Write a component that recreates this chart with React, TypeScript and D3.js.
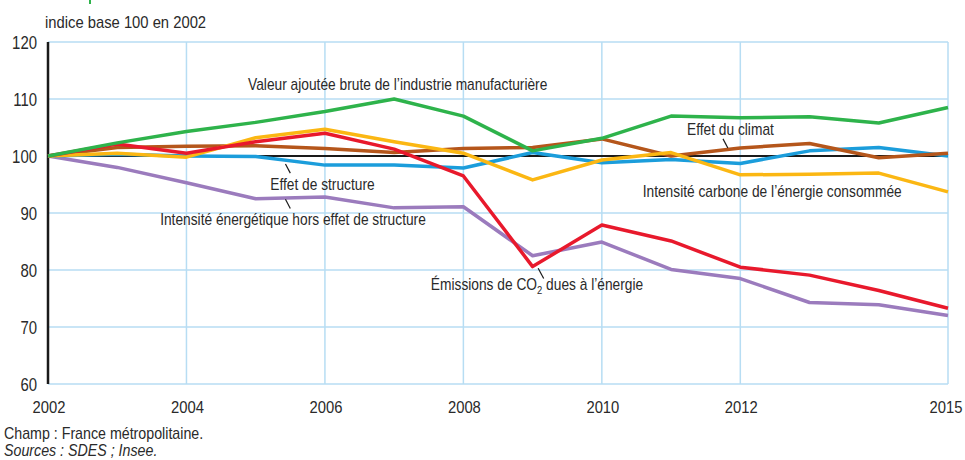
import React from "react";
import * as d3 from "d3";

const years = [2002, 2003, 2004, 2005, 2006, 2007, 2008, 2009, 2010, 2011, 2012, 2013, 2014, 2015];
const valeurAjoutee = [100, 102.3, 104.3, 105.9, 107.8, 110.0, 107.0, 100.9, 103.1, 107.0, 106.7, 106.9, 105.8, 108.5];
const emissionsCO2 = [100, 102.1, 100.5, 102.5, 104.0, 101.2, 96.5, 80.6, 87.9, 85.1, 80.5, 79.1, 76.4, 73.3];
const intensiteEnergetique = [100, 98.0, 95.3, 92.5, 92.8, 90.9, 91.1, 82.5, 84.9, 80.1, 78.5, 74.3, 73.9, 72.0];
const intensiteCarbone = [100, 100.5, 99.8, 103.2, 104.7, 102.5, 100.5, 95.8, 99.3, 100.6, 96.7, 96.8, 97.0, 93.7];
const effetClimat = [100, 101.5, 101.7, 101.8, 101.3, 100.6, 101.3, 101.5, 103.0, 100.0, 101.4, 102.2, 99.7, 100.5];
const effetStructure = [100, 100.3, 100.0, 99.9, 98.4, 98.4, 97.9, 100.6, 98.8, 99.4, 98.7, 100.9, 101.5, 100.0];
const yTicks = [60, 70, 80, 90, 100, 110, 120];
const xTicks = [2002, 2004, 2006, 2008, 2010, 2012, 2015];

const series = [
  { name: "Intensité énergétique hors effet de structure", values: intensiteEnergetique, color: "#9b7bbd" },
  { name: "Effet de structure", values: effetStructure, color: "#1b9ddb" },
  { name: "Effet du climat", values: effetClimat, color: "#b5561b" },
  { name: "Intensité carbone", values: intensiteCarbone, color: "#fbb713" },
  { name: "Émissions", values: emissionsCO2, color: "#e8192c" },
  { name: "Valeur ajoutée", values: valeurAjoutee, color: "#2eb34b" },
];

const FONT = "'Liberation Sans', Arial, sans-serif";
const TXT = "#2a2a2a";

function Txt(props: {
  x: number;
  y: number;
  size: number;
  k: number;
  anchor?: string;
  italic?: boolean;
  children: React.ReactNode;
}) {
  return (
    <text
      transform={`translate(${props.x},${props.y}) scale(${props.k},1)`}
      fontFamily={FONT}
      fontSize={props.size}
      fill={TXT}
      textAnchor={props.anchor || "start"}
      fontStyle={props.italic ? "italic" : "normal"}
    >
      {props.children}
    </text>
  );
}

export default function App() {
  const x = d3.scaleLinear().domain([2002, 2015]).range([48, 948]);
  const y = d3.scaleLinear().domain([60, 120]).range([384, 42]);
  const line = d3.line<number>().x((_, i) => x(years[i])).y((d) => y(d));

  const labels = [
    { text: "Valeur ajoutée brute de l’industrie manufacturière", yr: 2004.89, v: 111.58 },
    { text: "Effet du climat", yr: 2011.23, v: 103.68 },
    { text: "Intensité carbone de l’énergie consommée", yr: 2010.59, v: 92.86 },
    { text: "Effet de structure", yr: 2005.21, v: 94.04 },
    { text: "Intensité énergétique hors effet de structure", yr: 2003.62, v: 87.89 },
  ];
  const leaders = [
    { y1: 2011.75, v1: 103.0, y2: 2011.82, v2: 101.4 },
    { y1: 2005.43, v1: 98.6, y2: 2005.5, v2: 97.0 },
    { y1: 2005.43, v1: 92.4, y2: 2005.5, v2: 90.8 },
    { y1: 2009.08, v1: 80.3, y2: 2009.16, v2: 78.5 },
  ];

  return (
    <svg width={965} height={460} style={{ position: "absolute", left: 0, top: 0, background: "#fff" }}>
      <rect x={89} y={0} width={2} height={4} fill="#2eb34b" />
      <Txt x={45} y={28} size={17} k={0.87}>indice base 100 en 2002</Txt>
      {yTicks.map((t) => (
        <line key={"gy" + t} x1={x(2002)} x2={x(2015)} y1={y(t)} y2={y(t)} stroke="#b7ddf3" strokeWidth={1.5} />
      ))}
      {xTicks.map((t) => (
        <line key={"gx" + t} x1={x(t)} x2={x(t)} y1={y(120)} y2={y(60)} stroke="#b7ddf3" strokeWidth={1.5} />
      ))}
      {yTicks.map((t) => (
        <Txt key={"ty" + t} x={37} y={y(t) + 6.5} size={18} k={0.83} anchor="end">{t}</Txt>
      ))}
      {xTicks.map((t) => (
        <Txt key={"tx" + t} x={t === 2015 ? x(t) - 2 : x(t) + 1} y={413} size={17} k={0.87} anchor="middle">{t}</Txt>
      ))}
      <line x1={x(2002)} x2={x(2015)} y1={y(100)} y2={y(100)} stroke="#1a1a1a" strokeWidth={2} />
      <line x1={x(2002)} x2={x(2002)} y1={y(120)} y2={y(60)} stroke="#1a1a1a" strokeWidth={2.5} />
      {series.map((s) => (
        <path key={s.name} d={line(s.values) || ""} fill="none" stroke={s.color} strokeWidth={3.5} strokeLinejoin="round" />
      ))}
      {leaders.map((l, i) => (
        <line key={"l" + i} x1={x(l.y1)} y1={y(l.v1)} x2={x(l.y2)} y2={y(l.v2)} stroke="#1a1a1a" strokeWidth={1.2} />
      ))}
      {labels.map((l) => (
        <Txt key={l.text} x={x(l.yr)} y={y(l.v)} size={16} k={0.86}>{l.text}</Txt>
      ))}
      <Txt x={x(2007.53)} y={y(76.49)} size={16} k={0.86}>
        Émissions de CO<tspan fontSize={11} dy={4}>2</tspan><tspan dy={-4}> dues à l’énergie</tspan>
      </Txt>
      <Txt x={4} y={439} size={16} k={0.89}>Champ : France métropolitaine.</Txt>
      <Txt x={4} y={456} size={16} k={0.89} italic>Sources : SDES ; Insee.</Txt>
    </svg>
  );
}
